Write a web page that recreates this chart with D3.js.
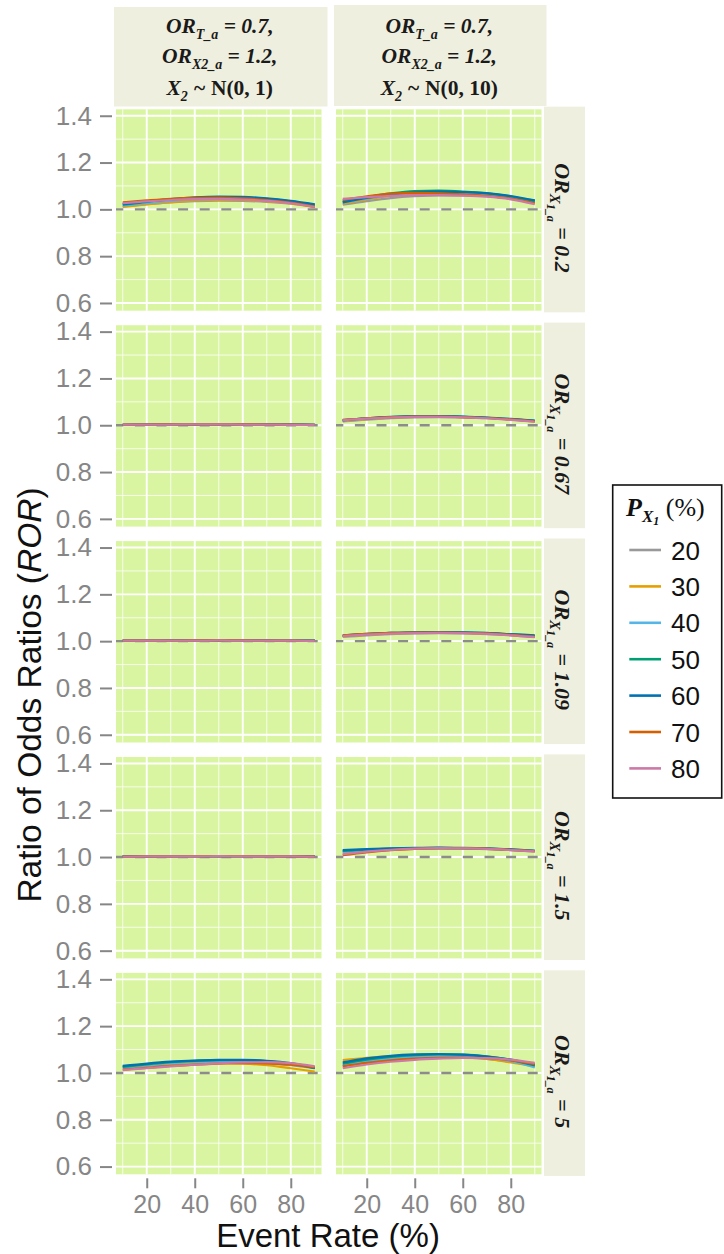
<!DOCTYPE html>
<html>
<head>
<meta charset="utf-8">
<script src="https://cdn.jsdelivr.net/npm/d3@7"></script>
<style>
  body { margin: 0; background: #ffffff; }
  svg { display: block; }
</style>
</head>
<body>
<svg id="chart" width="724" height="1254"></svg>
<script>
// ---- data ------------------------------------------------------------
const eventRates = [10, 20, 30, 40, 50, 60, 70, 80, 90];
const pX1Levels = ["20", "30", "40", "50", "60", "70", "80"];
const pX1Colors = ["#999999", "#E69F00", "#56B4E9", "#009E73", "#0072B2", "#D55E00", "#CC79A7"];
const orX1aLevels = ["0.2", "0.67", "1.09", "1.5", "5"];
const x2Sd = ["1", "10"];
const yTicks = [0.6, 0.8, 1.0, 1.2, 1.4];
const yMinor = [0.7, 0.9, 1.1, 1.3];
const xTicks = [20, 40, 60, 80];
const xMinor = [10, 30, 50, 70, 90];

// ROR by event rate, one row per P_X1 level (20 … 80)
const ror_or020_sd1 = [
  [1.012, 1.022, 1.030, 1.035, 1.037, 1.036, 1.032, 1.024, 1.012],
  [1.010, 1.021, 1.031, 1.037, 1.040, 1.039, 1.034, 1.025, 1.008],
  [1.016, 1.027, 1.036, 1.042, 1.045, 1.044, 1.039, 1.030, 1.016],
  [1.020, 1.032, 1.042, 1.049, 1.052, 1.051, 1.045, 1.034, 1.019],
  [1.022, 1.034, 1.044, 1.051, 1.054, 1.053, 1.047, 1.036, 1.021],
  [1.030, 1.038, 1.045, 1.049, 1.050, 1.047, 1.040, 1.029, 1.012],
  [1.026, 1.034, 1.040, 1.044, 1.045, 1.042, 1.036, 1.026, 1.010]
];
const ror_or020_sd10 = [
  [1.020, 1.035, 1.048, 1.056, 1.060, 1.060, 1.056, 1.047, 1.030],
  [1.024, 1.042, 1.057, 1.064, 1.066, 1.064, 1.058, 1.046, 1.027],
  [1.030, 1.047, 1.061, 1.070, 1.073, 1.071, 1.065, 1.053, 1.037],
  [1.034, 1.052, 1.068, 1.078, 1.080, 1.076, 1.068, 1.055, 1.034],
  [1.030, 1.049, 1.064, 1.073, 1.076, 1.074, 1.069, 1.057, 1.038],
  [1.040, 1.056, 1.067, 1.070, 1.068, 1.064, 1.058, 1.046, 1.026],
  [1.045, 1.052, 1.058, 1.061, 1.061, 1.059, 1.054, 1.043, 1.022]
];
const ror_or067_sd1 = [
  [1.001, 1.002, 1.002, 1.003, 1.003, 1.003, 1.002, 1.002, 1.001],
  [1.001, 1.002, 1.003, 1.003, 1.003, 1.003, 1.003, 1.002, 1.001],
  [1.002, 1.003, 1.003, 1.004, 1.004, 1.004, 1.003, 1.003, 1.002],
  [1.002, 1.003, 1.004, 1.004, 1.004, 1.004, 1.004, 1.003, 1.002],
  [1.002, 1.003, 1.004, 1.004, 1.005, 1.004, 1.004, 1.003, 1.002],
  [1.003, 1.003, 1.004, 1.004, 1.004, 1.004, 1.003, 1.003, 1.002],
  [1.003, 1.003, 1.003, 1.004, 1.004, 1.003, 1.003, 1.002, 1.002]
];
const ror_or067_sd10 = [
  [1.016, 1.024, 1.030, 1.034, 1.035, 1.034, 1.030, 1.024, 1.016],
  [1.018, 1.026, 1.032, 1.036, 1.037, 1.035, 1.031, 1.025, 1.016],
  [1.020, 1.028, 1.034, 1.037, 1.038, 1.036, 1.032, 1.026, 1.018],
  [1.021, 1.029, 1.035, 1.038, 1.038, 1.036, 1.032, 1.026, 1.019],
  [1.022, 1.030, 1.036, 1.039, 1.039, 1.037, 1.033, 1.027, 1.020],
  [1.023, 1.030, 1.035, 1.037, 1.037, 1.035, 1.031, 1.025, 1.017],
  [1.021, 1.028, 1.033, 1.036, 1.036, 1.034, 1.030, 1.023, 1.015]
];
const ror_or109_sd1 = [
  [1.001, 1.001, 1.002, 1.002, 1.002, 1.002, 1.002, 1.001, 1.001],
  [1.001, 1.002, 1.002, 1.002, 1.003, 1.002, 1.002, 1.002, 1.001],
  [1.001, 1.002, 1.002, 1.003, 1.003, 1.003, 1.002, 1.002, 1.001],
  [1.002, 1.002, 1.003, 1.003, 1.003, 1.003, 1.003, 1.002, 1.002],
  [1.002, 1.002, 1.003, 1.003, 1.003, 1.003, 1.003, 1.002, 1.002],
  [1.002, 1.002, 1.002, 1.003, 1.003, 1.003, 1.002, 1.002, 1.001],
  [1.002, 1.002, 1.002, 1.002, 1.003, 1.002, 1.002, 1.002, 1.001]
];
const ror_or109_sd10 = [
  [1.018, 1.025, 1.030, 1.033, 1.034, 1.033, 1.030, 1.025, 1.018],
  [1.020, 1.027, 1.032, 1.035, 1.036, 1.035, 1.032, 1.027, 1.020],
  [1.022, 1.029, 1.034, 1.036, 1.037, 1.036, 1.033, 1.028, 1.022],
  [1.023, 1.030, 1.035, 1.037, 1.038, 1.037, 1.034, 1.029, 1.023],
  [1.024, 1.031, 1.035, 1.038, 1.039, 1.038, 1.035, 1.030, 1.025],
  [1.025, 1.031, 1.035, 1.037, 1.037, 1.036, 1.033, 1.027, 1.019],
  [1.022, 1.028, 1.032, 1.034, 1.035, 1.034, 1.031, 1.025, 1.017]
];
const ror_or150_sd1 = [
  [1.002, 1.002, 1.003, 1.003, 1.003, 1.003, 1.003, 1.002, 1.002],
  [1.002, 1.003, 1.003, 1.003, 1.004, 1.003, 1.003, 1.003, 1.002],
  [1.002, 1.003, 1.003, 1.004, 1.004, 1.004, 1.003, 1.003, 1.002],
  [1.003, 1.003, 1.004, 1.004, 1.004, 1.004, 1.004, 1.003, 1.003],
  [1.003, 1.003, 1.004, 1.004, 1.004, 1.004, 1.004, 1.003, 1.003],
  [1.002, 1.003, 1.003, 1.004, 1.004, 1.004, 1.003, 1.003, 1.002],
  [1.002, 1.003, 1.003, 1.003, 1.004, 1.003, 1.003, 1.003, 1.002]
];
const ror_or150_sd10 = [
  [1.020, 1.027, 1.032, 1.035, 1.036, 1.036, 1.034, 1.030, 1.024],
  [1.015, 1.024, 1.031, 1.035, 1.037, 1.037, 1.035, 1.031, 1.025],
  [1.022, 1.029, 1.034, 1.037, 1.038, 1.038, 1.036, 1.032, 1.027],
  [1.026, 1.032, 1.036, 1.038, 1.039, 1.038, 1.036, 1.032, 1.026],
  [1.030, 1.034, 1.037, 1.039, 1.040, 1.039, 1.037, 1.033, 1.027],
  [1.008, 1.020, 1.029, 1.035, 1.038, 1.038, 1.036, 1.031, 1.025],
  [1.012, 1.023, 1.031, 1.036, 1.038, 1.037, 1.035, 1.030, 1.024]
];
const ror_or500_sd1 = [
  [1.020, 1.030, 1.037, 1.041, 1.043, 1.043, 1.040, 1.033, 1.020],
  [1.028, 1.036, 1.041, 1.043, 1.043, 1.040, 1.033, 1.020, 1.006],
  [1.024, 1.034, 1.042, 1.047, 1.049, 1.048, 1.044, 1.036, 1.022],
  [1.026, 1.037, 1.046, 1.052, 1.055, 1.055, 1.051, 1.040, 1.020],
  [1.030, 1.040, 1.048, 1.053, 1.056, 1.056, 1.052, 1.042, 1.022],
  [1.014, 1.022, 1.030, 1.036, 1.040, 1.042, 1.041, 1.036, 1.024],
  [1.012, 1.020, 1.028, 1.035, 1.041, 1.045, 1.046, 1.042, 1.028]
];
const ror_or500_sd10 = [
  [1.030, 1.048, 1.060, 1.066, 1.068, 1.066, 1.060, 1.048, 1.030],
  [1.055, 1.065, 1.072, 1.075, 1.075, 1.071, 1.060, 1.045, 1.028],
  [1.035, 1.052, 1.064, 1.071, 1.074, 1.072, 1.065, 1.050, 1.024],
  [1.040, 1.057, 1.069, 1.076, 1.079, 1.078, 1.071, 1.056, 1.032],
  [1.045, 1.062, 1.073, 1.079, 1.081, 1.078, 1.070, 1.057, 1.035],
  [1.028, 1.043, 1.054, 1.061, 1.065, 1.066, 1.063, 1.054, 1.038],
  [1.020, 1.036, 1.048, 1.056, 1.061, 1.064, 1.063, 1.057, 1.043]
];

// facet grid: rows = OR_X1_a, columns = SD of X2
const facetRows = [
  [ror_or020_sd1, ror_or020_sd10],
  [ror_or067_sd1, ror_or067_sd10],
  [ror_or109_sd1, ror_or109_sd10],
  [ror_or150_sd1, ror_or150_sd10],
  [ror_or500_sd1, ror_or500_sd10]
];

// ---- layout ----------------------------------------------------------
const svg = d3.select("#chart");
const colLeft = [116, 336];
const panelW = 205.5;
const rowTop0 = 109.3, rowStep = 215.9, panelH = 201.4;
const panelBg = "#DAF5A2";
const stripBg = "#EFEFDF";
const axisGrey = "#868686";
const serif = "'Liberation Serif', 'Times New Roman', serif";
const sans = "'Liberation Sans', Arial, sans-serif";

const x = d3.scaleLinear().domain([7.2, 92.8]).range([0, panelW]);
const y = d3.scaleLinear().domain([0.567, 1.4275]).range([panelH, 0]);
const color = d3.scaleOrdinal().domain(pX1Levels).range(pX1Colors);

const line = d3.line()
  .x((d, i) => x(eventRates[i]))
  .y(d => y(d))
  .curve(d3.curveMonotoneX);

facetRows.forEach((row, ri) => {
  const top = rowTop0 + ri * rowStep;
  row.forEach((series, ci) => {
    const g = svg.append("g").attr("transform", `translate(${colLeft[ci]},${top})`);
    g.append("rect").attr("width", panelW).attr("height", panelH).attr("fill", panelBg);

    // grid
    g.selectAll(".ymin").data(yMinor).join("line")
      .attr("x1", 0).attr("x2", panelW).attr("y1", d => y(d)).attr("y2", d => y(d))
      .attr("stroke", "#ffffff").attr("stroke-opacity", 0.85).attr("stroke-width", 0.9);
    g.selectAll(".xmin").data(xMinor).join("line")
      .attr("y1", 0).attr("y2", panelH).attr("x1", d => x(d)).attr("x2", d => x(d))
      .attr("stroke", "#ffffff").attr("stroke-opacity", 0.85).attr("stroke-width", 0.9);
    g.selectAll(".ymaj").data(yTicks).join("line")
      .attr("x1", 0).attr("x2", panelW).attr("y1", d => y(d)).attr("y2", d => y(d))
      .attr("stroke", "#ffffff").attr("stroke-width", 1.9);
    g.selectAll(".xmaj").data(xTicks).join("line")
      .attr("y1", 0).attr("y2", panelH).attr("x1", d => x(d)).attr("x2", d => x(d))
      .attr("stroke", "#ffffff").attr("stroke-width", 1.9);

    // reference at ROR = 1
    g.append("line")
      .attr("x1", 0).attr("x2", panelW).attr("y1", y(1)).attr("y2", y(1))
      .attr("stroke", "#8c8c8c").attr("stroke-width", 2.4)
      .attr("stroke-dasharray", "10,11.6").attr("stroke-dashoffset", 2.7);

    // series
    g.selectAll(".series").data(series).join("path")
      .attr("d", d => line(d))
      .attr("fill", "none")
      .attr("stroke", (d, i) => color(pX1Levels[i]))
      .attr("stroke-width", 2.2)
      .attr("stroke-linejoin", "round");
  });

  // y axis on the left column
  const yAxis = d3.axisLeft(y).tickValues(yTicks).tickSize(12).tickSizeOuter(0).tickPadding(8)
    .tickFormat(d3.format(".1f"));
  const ga = svg.append("g").attr("transform", `translate(${colLeft[0] - 4},${top})`).call(yAxis);
  ga.select(".domain").remove();
  ga.selectAll("line").attr("stroke", axisGrey).attr("stroke-width", 2);
  ga.selectAll("text").attr("fill", axisGrey).style("font-family", sans).style("font-size", "26px");

  // row strip
  const sx = 544, sw = 41;
  svg.append("rect").attr("x", sx).attr("y", top - 2.6).attr("width", sw).attr("height", panelH + 4.2)
    .attr("fill", stripBg);
  const cy = top + panelH / 2 + 8;
  const t = svg.append("text")
    .attr("transform", `translate(555,${cy}) rotate(90)`)
    .attr("text-anchor", "middle")
    .style("font-family", serif).style("font-weight", "bold").style("font-style", "italic")
    .attr("fill", "#1a1a1a");
  t.append("tspan").style("font-size", "22px").text("OR");
  t.append("tspan").style("font-size", "15px").attr("dy", 5).text("X");
  t.append("tspan").style("font-size", "12px").attr("dy", 3).text("1_a");
  t.append("tspan").style("font-size", "22px").attr("dy", -8).text(" = " + orX1aLevels[ri]);
});

// x axes under the bottom row
const bottomY = rowTop0 + 4 * rowStep + panelH;
colLeft.forEach(cl => {
  const xAxis = d3.axisBottom(x).tickValues(xTicks).tickSize(10).tickSizeOuter(0).tickPadding(6.5);
  const gx = svg.append("g").attr("transform", `translate(${cl},${bottomY + 4})`).call(xAxis);
  gx.select(".domain").remove();
  gx.selectAll("line").attr("stroke", axisGrey).attr("stroke-width", 2);
  gx.selectAll("text").attr("fill", axisGrey).style("font-family", sans).style("font-size", "25px");
});

// column strips
const stripBoxes = [[114, 7, 213.5, 99.5], [334, 5, 212.5, 101]];
stripBoxes.forEach((b, ci) => {
  svg.append("rect").attr("x", b[0]).attr("y", b[1]).attr("width", b[2]).attr("height", b[3]).attr("fill", stripBg);
  const cx = b[0] + b[2] / 2 - 1;
  const base = [32.5, 63, 94.5];
  const mk = yy => svg.append("text").attr("x", cx).attr("y", yy).attr("text-anchor", "middle")
    .style("font-family", serif).style("font-weight", "bold").style("font-style", "italic")
    .attr("fill", "#1a1a1a");
  const l1 = mk(base[0]);
  l1.append("tspan").style("font-size", "21.5px").text("OR");
  l1.append("tspan").style("font-size", "14px").attr("dy", 6).text("T_a");
  l1.append("tspan").style("font-size", "21.5px").attr("dy", -6).text(" = 0.7,");
  const l2 = mk(base[1]);
  l2.append("tspan").style("font-size", "21.5px").text("OR");
  l2.append("tspan").style("font-size", "14px").attr("dy", 6).text("X2_a");
  l2.append("tspan").style("font-size", "21.5px").attr("dy", -6).text(" = 1.2,");
  const l3 = mk(base[2]);
  l3.append("tspan").style("font-size", "21.5px").text("X");
  l3.append("tspan").style("font-size", "14px").attr("dy", 6).text("2");
  l3.append("tspan").style("font-size", "21.5px").attr("dy", -6).text(" ~ ");
  l3.append("tspan").style("font-size", "21.5px").style("font-style", "normal").text(`N(0, ${x2Sd[ci]})`);
});

// axis titles
svg.append("text").attr("x", 328).attr("y", 1247).attr("text-anchor", "middle")
  .style("font-family", sans).style("font-size", "33px").attr("fill", "#111")
  .text("Event Rate (%)");
const yt = svg.append("text").attr("transform", "translate(41,695) rotate(-90)")
  .attr("text-anchor", "middle").style("font-family", sans).style("font-size", "33.5px").attr("fill", "#111");
yt.append("tspan").text("Ratio of Odds Ratios (");
yt.append("tspan").style("font-style", "italic").text("ROR");
yt.append("tspan").text(")");

// legend
const lg = svg.append("g");
lg.append("rect").attr("x", 612.7).attr("y", 485).attr("width", 109).attr("height", 313)
  .attr("fill", "#ffffff").attr("stroke", "#111").attr("stroke-width", 1.6);
const lt = lg.append("text").attr("x", 626).attr("y", 516).style("font-family", serif).attr("fill", "#111");
lt.append("tspan").style("font-size", "26px").style("font-weight", "bold").style("font-style", "italic").text("P");
lt.append("tspan").style("font-size", "17px").style("font-weight", "bold").style("font-style", "italic").attr("dy", 6).text("X");
lt.append("tspan").style("font-size", "12px").style("font-weight", "bold").style("font-style", "italic").attr("dy", 3).text("1");
lt.append("tspan").style("font-size", "26px").attr("dy", -9).text(" (%)");

const keyStep = 36.4, keyY0 = 550;
const items = lg.selectAll(".key").data(pX1Levels).join("g")
  .attr("transform", (d, i) => `translate(0,${keyY0 + i * keyStep})`);
items.append("line").attr("x1", 629.3).attr("x2", 661).attr("y1", 0).attr("y2", 0)
  .attr("stroke", d => color(d)).attr("stroke-width", 2.6);
items.append("text").attr("x", 671).attr("y", 9.5).text(d => d)
  .style("font-family", sans).style("font-size", "26px").attr("fill", "#111");
</script>
</body>
</html>
